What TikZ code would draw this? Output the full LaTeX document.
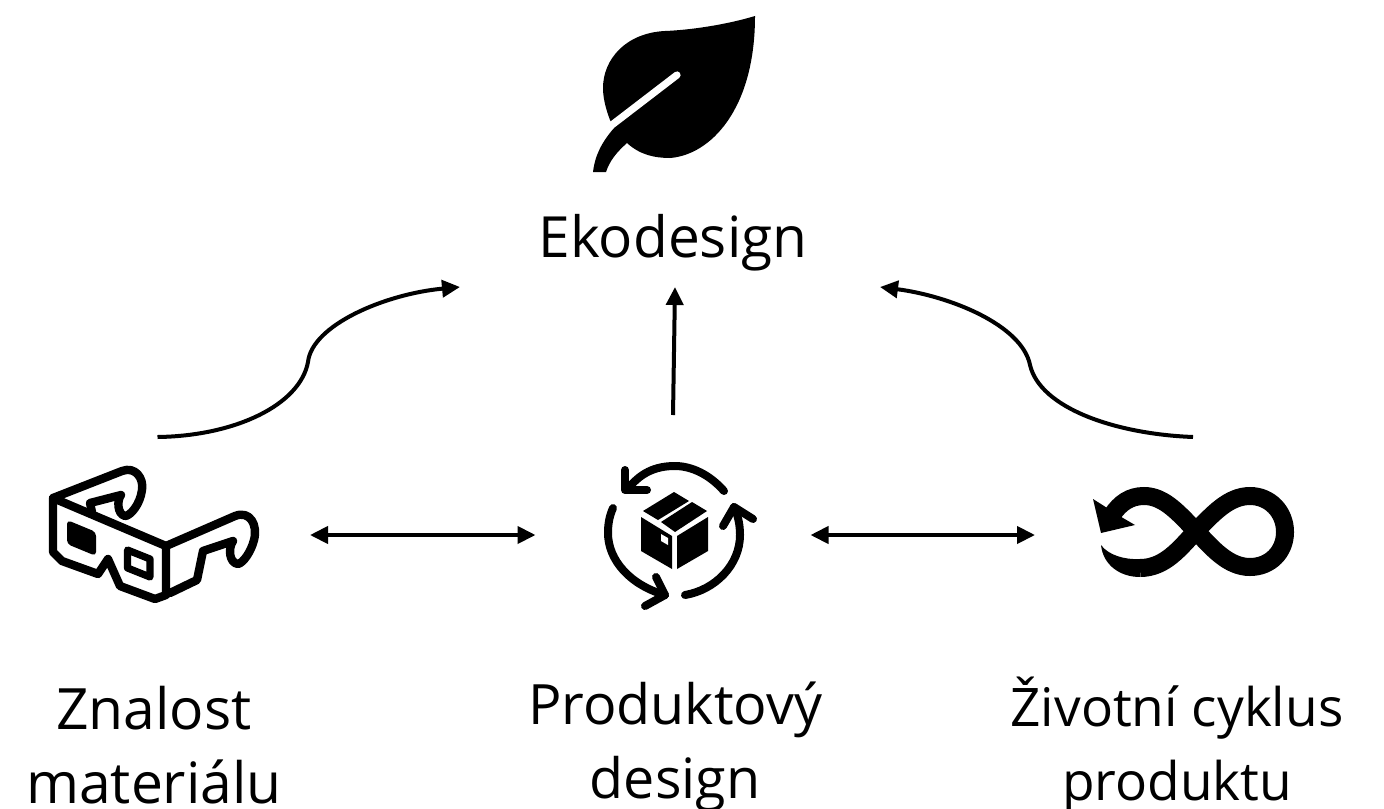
\documentclass[tikz,border=0pt]{standalone}
\usepackage{fontspec}
\setmainfont{Open Sans}
\usetikzlibrary{arrows.meta}
\tikzset{
  every node/.style={inner sep=0pt,outer sep=0pt},
  label text/.style={font=\fontsize{#1}{37}\selectfont,align=center,text=black},
  icon area/.style={minimum width=#1,minimum height=98pt},
  conn/.style={line width=2pt,{Triangle[length=9pt,width=8.5pt]}-{Triangle[length=9pt,width=8.5pt]}},
  flow/.style={line width=2pt,-{Triangle[length=9pt,width=8.5pt]}},
  band/.style={line width=4pt,line cap=round,line join=round,draw=black},
  thin band/.style={line width=4.2pt,line cap=round,line join=round,draw=black},
}
\begin{document}
\begin{tikzpicture}[x=0.5pt,y=-0.5pt]
\useasboundingbox (0,0) rectangle (1384,808);
% anchor nodes
\node[icon area=152.5pt] (glasses) at (157.5,535) {};
\node[minimum width=137.5pt,minimum height=120pt] (box) at (673,535) {};
\node[icon area=158pt] (infinity) at (1193,535) {};
\node[minimum width=210pt,minimum height=44pt] (eko) at (670,243) {};
\node[label text=28.4] (ekotext) at (673,243) {Ekodesign};
\node[label text=28.5] (l1) at (154,745) {Znalost\\materiálu};
\node[label text=27.8] (l2) at (675,747) {Produktový\\design};
\node[label text=26.6] (l3) at (1177,745) {Životní cyklus\\produktu};
% connectors
\draw[conn] (glasses.east) -- (box.west);
\draw[conn] (box.east) -- (infinity.west);
\draw[flow] (box.north) -- ([xshift=2.5pt]eko.south);
\draw[flow] (glasses.north) .. controls (235,436) and (300,405) .. (308,362) .. controls (312,325) and (385,294) .. (eko.south west);
\draw[flow] (infinity.north) .. controls (1115,434) and (1040,408) .. (1030,365) .. controls (1022,325) and (950,296) .. (eko.south east);
% leaf
\fill (755,16) .. controls (725,25) and (690,30) .. (665,31) .. controls (625,33) and (603,60) .. (603,88) .. controls (603,100) and (607,112) .. (610,120) -- (614,128)
  .. controls (602,142) and (595,155) .. (593,172) -- (606,172) .. controls (610,160) and (617,152) .. (627,143)
  .. controls (640,155) and (655,158) .. (670,158) .. controls (710,155) and (755,110) .. (755,16) -- cycle;
\draw[white,line width=3.6pt,line cap=round] (677,75) -- (604,131);
% glasses
\begin{scope}[thin band]
\draw (53,498) -- (53,552) -- (62,561) -- (98,574) -- (108,559) -- (120,586) -- (155,599) -- (166,595) -- (166,546) -- cycle;
\draw (53,498) -- (122,471) .. controls (135,466) and (144,478) .. (142,490) .. controls (140,505) and (130,516) .. (125,516) .. controls (117,514) and (117,500) .. (121,495) -- (90,503) -- (92,512);
\draw (166,546) -- (235,516) .. controls (250,510) and (258,525) .. (254,540) .. controls (251,552) and (243,563) .. (238,564) .. controls (229,563) and (228,548) .. (233,541) -- (203,551) -- (197,580) -- (170,593);
\draw[line width=3.6pt] (127.5,550) -- (150,559) -- (150,577) -- (127.5,568) -- cycle;
\end{scope}
\fill[rounded corners=2pt] (67,520) -- (96,532) -- (96,556) -- (67,544) -- cycle;
% package
\fill (641,517) -- (672,536) -- (672,569) -- (641,551) -- cycle;
\fill (677,536) -- (708,517) -- (708,551) -- (677,569) -- cycle;
\fill (643,511) -- (674,492) -- (689,501) -- (658,520) -- cycle;
\fill (661,522) -- (692,502) -- (707,511) -- (675,532) -- cycle;
\fill[white] (661,534) -- (668,538) -- (668,545) -- (661,541) -- cycle;
\begin{scope}[band]
\draw (724,491) .. controls (710,475) and (692,466) .. (675,466) .. controls (655,466) and (640,473) .. (627,490);
\draw (625,470) -- (625,490) -- (647,490);
\draw (685,595) .. controls (715,590) and (740,565) .. (740,535) .. controls (740,525) and (738,515) .. (734,507);
\draw (723,526) -- (734,507) -- (753,519);
\draw (613,508) .. controls (609,517) and (608,525) .. (608,533) .. controls (608,560) and (630,585) .. (665,595);
\draw (656,577) -- (665,595) -- (645,606);
\end{scope}
% infinity
\draw[line width=9pt] (1112,515) .. controls (1120,503) and (1130,496) .. (1144,496) .. controls (1165,496) and (1180,515) .. (1196,531) .. controls (1212,548) and (1228,567) .. (1250,567) .. controls (1270,567) and (1285,552) .. (1285,532) .. controls (1285,512) and (1270,496) .. (1250,496) .. controls (1228,496) and (1212,515) .. (1196,531) .. controls (1180,548) and (1165,568) .. (1140,568);
\fill (1140,559) .. controls (1125,560) and (1108,555) .. (1101,545) .. controls (1103,565) and (1120,577) .. (1140,577) -- cycle;
\fill (1093,499) -- (1101,533) -- (1135,525) -- (1123,518) -- cycle;
\end{tikzpicture}
\end{document}
